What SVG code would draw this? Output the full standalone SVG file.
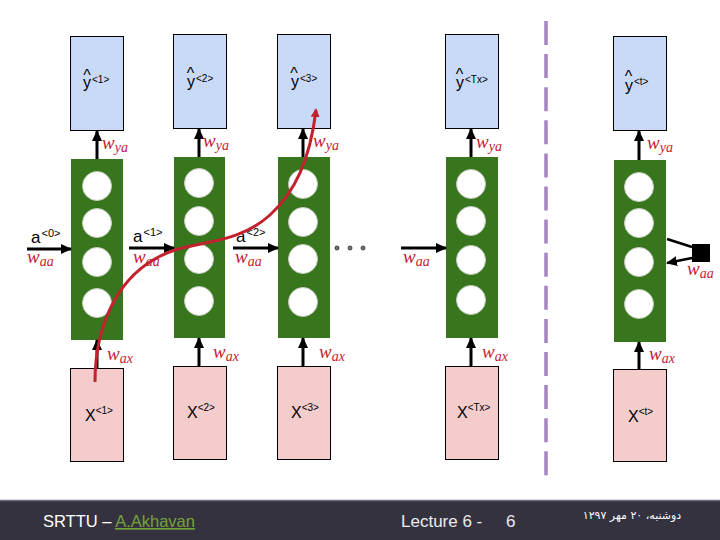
<svg xmlns="http://www.w3.org/2000/svg" width="720" height="540" viewBox="0 0 720 540">
<style>
.yb{fill:#c9daf8;stroke:#000;stroke-width:1}
.xb{fill:#f4cccc;stroke:#000;stroke-width:1}
.cell{fill:#38761d}
.unit{fill:#fff;stroke:#c3ccbd;stroke-width:1}
.arr{stroke:#000;stroke-width:3;fill:none;marker-end:url(#ah)}
.ln{stroke:#000;stroke-width:2.5;fill:none}
.w{font-family:"Liberation Serif",serif;font-style:italic;fill:#c62232;font-size:19px}
.sub{font-size:14px}
.lbl{font-family:"Liberation Sans",Arial,sans-serif;font-size:16px;fill:#000}
.hat{font-family:"Liberation Sans",Arial,sans-serif;font-size:16px;fill:#000;text-anchor:middle}
.sup{font-size:10px}
.a{font-family:"Liberation Sans",Arial,sans-serif;font-size:17px;fill:#000}
.asup{font-size:11px}
.ft{font-family:"Liberation Sans",Arial,sans-serif;font-size:17px;fill:#ececec}
</style>
<defs>
<marker id="ah" markerUnits="userSpaceOnUse" markerWidth="11" markerHeight="10" refX="10" refY="5" orient="auto">
<path d="M0,0 L11,5 L0,10 z" fill="#000"/>
</marker>
<marker id="rh" markerUnits="userSpaceOnUse" markerWidth="9" markerHeight="9" refX="7" refY="4.5" orient="auto">
<path d="M0,0 L9,4.5 L0,9 z" fill="#c1222e"/>
</marker>
</defs>
<rect width="720" height="540" fill="#fff"/>

<g id="col1">
<g id="y1"><rect class="yb" x="70.5" y="36.5" width="53" height="94"/>
<text class="hat" x="87" y="80.5">^</text>
<text class="lbl" x="83" y="88">y<tspan class="sup" dx="1" dy="-5">&lt;1&gt;</tspan></text></g>
<g id="cell1"><rect class="cell" x="71" y="159" width="52" height="181"/>
<circle class="unit" cx="97" cy="186" r="14.5"/><circle class="unit" cx="97" cy="223" r="14.5"/><circle class="unit" cx="97" cy="262" r="14.5"/><circle class="unit" cx="97" cy="303" r="14.5"/></g>
<g id="x1"><rect class="xb" x="70.5" y="368.5" width="53" height="93"/>
<text class="lbl" x="85" y="421">X<tspan class="sup" dx="0" dy="-7">&lt;1&gt;</tspan></text></g>
</g>

<g id="col2">
<g id="y2"><rect class="yb" x="173.5" y="34.5" width="53" height="94"/>
<text class="hat" x="190.5" y="78.5">^</text>
<text class="lbl" x="187" y="87">y<tspan class="sup" dx="1" dy="-5">&lt;2&gt;</tspan></text></g>
<g id="cell2"><rect class="cell" x="174" y="157" width="51" height="181"/>
<circle class="unit" cx="199" cy="183" r="14.5"/><circle class="unit" cx="199" cy="221" r="14.5"/><circle class="unit" cx="199" cy="259" r="14.5"/><circle class="unit" cx="199" cy="301" r="14.5"/></g>
<g id="x2"><rect class="xb" x="173.5" y="366.5" width="53" height="93"/>
<text class="lbl" x="187" y="418">X<tspan class="sup" dx="0" dy="-7">&lt;2&gt;</tspan></text></g>
</g>

<g id="col3">
<g id="y3"><rect class="yb" x="277.5" y="34.5" width="53" height="94"/>
<text class="hat" x="294" y="78.5">^</text>
<text class="lbl" x="291" y="87">y<tspan class="sup" dx="1" dy="-5">&lt;3&gt;</tspan></text></g>
<g id="cell3"><rect class="cell" x="278" y="157" width="52" height="181"/>
<circle class="unit" cx="303" cy="184" r="14.5"/><circle class="unit" cx="303" cy="222" r="14.5"/><circle class="unit" cx="303" cy="259" r="14.5"/><circle class="unit" cx="303" cy="302" r="14.5"/></g>
<g id="x3"><rect class="xb" x="277.5" y="366.5" width="53" height="93"/>
<text class="lbl" x="291" y="418">X<tspan class="sup" dx="0" dy="-7">&lt;3&gt;</tspan></text></g>
</g>

<g id="colTx">
<g id="yTx"><rect class="yb" x="445.5" y="34.5" width="53" height="94"/>
<text class="hat" x="459.5" y="79.5">^</text>
<text class="lbl" x="456" y="88">y<tspan class="sup" dx="1" dy="-5">&lt;Tx&gt;</tspan></text></g>
<g id="cellTx"><rect class="cell" x="446" y="157" width="52" height="181"/>
<circle class="unit" cx="471" cy="184" r="14.5"/><circle class="unit" cx="471" cy="221" r="14.5"/><circle class="unit" cx="471" cy="260" r="14.5"/><circle class="unit" cx="471" cy="300" r="14.5"/></g>
<g id="xTx"><rect class="xb" x="445.5" y="366.5" width="53" height="93"/>
<text class="lbl" x="457" y="418">X<tspan class="sup" dx="0" dy="-7">&lt;Tx&gt;</tspan></text></g>
</g>

<g id="colt">
<g id="yt"><rect class="yb" x="613.5" y="36.5" width="53" height="94"/>
<text class="hat" x="628.5" y="81.5">^</text>
<text class="lbl" x="625" y="91">y<tspan class="sup" dx="1" dy="-6">&lt;t&gt;</tspan></text></g>
<g id="cellt"><rect class="cell" x="614" y="160" width="52" height="182"/>
<circle class="unit" cx="639" cy="187" r="14.5"/><circle class="unit" cx="639" cy="223" r="14.5"/><circle class="unit" cx="639" cy="262" r="14.5"/><circle class="unit" cx="639" cy="304" r="14.5"/></g>
<g id="xt"><rect class="xb" x="613.5" y="369.5" width="53" height="92"/>
<text class="lbl" x="628" y="422">X<tspan class="sup" dx="0" dy="-7">&lt;t&gt;</tspan></text></g>
<rect id="delay" x="692" y="244" width="18" height="18" fill="#000"/>
</g>

<g id="connectors">
<line class="arr" x1="97" y1="159" x2="97" y2="131"/>
<line class="arr" x1="199" y1="157" x2="199" y2="129"/>
<line class="arr" x1="303" y1="157" x2="303" y2="129"/>
<line class="arr" x1="471" y1="157" x2="471" y2="129"/>
<line class="arr" x1="639" y1="160" x2="639" y2="131"/>
<line class="arr" x1="97" y1="368" x2="97" y2="340"/>
<line class="arr" x1="199" y1="366" x2="199" y2="338"/>
<line class="arr" x1="303" y1="366" x2="303" y2="338"/>
<line class="arr" x1="471" y1="366" x2="471" y2="338"/>
<line class="arr" x1="639" y1="369" x2="639" y2="342"/>
<line class="arr" x1="27" y1="249" x2="71" y2="249"/>
<line class="arr" x1="129" y1="248" x2="174" y2="248"/>
<line class="arr" x1="233" y1="248" x2="278" y2="248"/>
<line class="arr" x1="401" y1="248" x2="446" y2="248"/>
<line class="ln" x1="692" y1="247" x2="667" y2="239"/>
<line class="arr" x1="692" y1="258" x2="667" y2="263" style="stroke-width:2.5"/>
<circle cx="337" cy="248" r="2" fill="#777" stroke="#222" stroke-width="0.8"/>
<circle cx="350" cy="248" r="2" fill="#777" stroke="#222" stroke-width="0.8"/>
<circle cx="363" cy="248" r="2" fill="#777" stroke="#222" stroke-width="0.8"/>
<text class="w" x="102" y="149">w<tspan class="sub" dy="3">ya</tspan></text>
<text class="w" x="203" y="147">w<tspan class="sub" dy="3">ya</tspan></text>
<text class="w" x="313" y="147">w<tspan class="sub" dy="3">ya</tspan></text>
<text class="w" x="476" y="148">w<tspan class="sub" dy="3">ya</tspan></text>
<text class="w" x="647" y="149">w<tspan class="sub" dy="3">ya</tspan></text>
<text class="w" x="107" y="360">w<tspan class="sub" dy="3">ax</tspan></text>
<text class="w" x="213" y="358">w<tspan class="sub" dy="3">ax</tspan></text>
<text class="w" x="319" y="358">w<tspan class="sub" dy="3">ax</tspan></text>
<text class="w" x="482" y="358">w<tspan class="sub" dy="3">ax</tspan></text>
<text class="w" x="649" y="360">w<tspan class="sub" dy="3">ax</tspan></text>
<text class="w" x="27" y="263">w<tspan class="sub" dy="3">aa</tspan></text>
<text class="w" x="133" y="263">w<tspan class="sub" dy="3">aa</tspan></text>
<text class="w" x="235" y="263">w<tspan class="sub" dy="3">aa</tspan></text>
<text class="w" x="403" y="263">w<tspan class="sub" dy="3">aa</tspan></text>
<text class="w" x="687" y="275">w<tspan class="sub" dy="3">aa</tspan></text>
<text class="a" x="31" y="243">a<tspan class="asup" dx="1" dy="-6">&lt;0&gt;</tspan></text>
<text class="a" x="133" y="242">a<tspan class="asup" dx="1" dy="-6">&lt;1&gt;</tspan></text>
<text class="a" x="236" y="242">a<tspan class="asup" dx="1" dy="-6">&lt;2&gt;</tspan></text>
<path d="M95,382 C95,330 115,270 175,250 C205,241 240,242 270,215 C295,192 310,160 316,110" fill="none" stroke="#c1222e" stroke-width="3" marker-end="url(#rh)"/>
</g>

<line x1="546" y1="21" x2="546" y2="476" stroke="#a684c2" stroke-width="3.5" stroke-dasharray="24 9.1"/>

<g id="footer">
<rect x="0" y="500" width="720" height="40" fill="#35323f"/>
<line x1="0" y1="500.5" x2="720" y2="500.5" stroke="#6e6880" stroke-width="1.5"/>
<text class="ft" x="43" y="527" style="font-size:16.5px;fill:#fff">SRTTU – <tspan fill="#74a23a" text-decoration="underline">A.Akhavan</tspan></text>
<text class="ft" x="401" y="527">Lecture 6 -</text>
<text class="ft" x="506" y="527">6</text>
<text x="632" y="519" font-family="DejaVu Sans, sans-serif" font-size="11" fill="#fff" text-anchor="middle">دوشنبه، ۲۰ مهر ۱۲۹۷</text>
</g>
</svg>
